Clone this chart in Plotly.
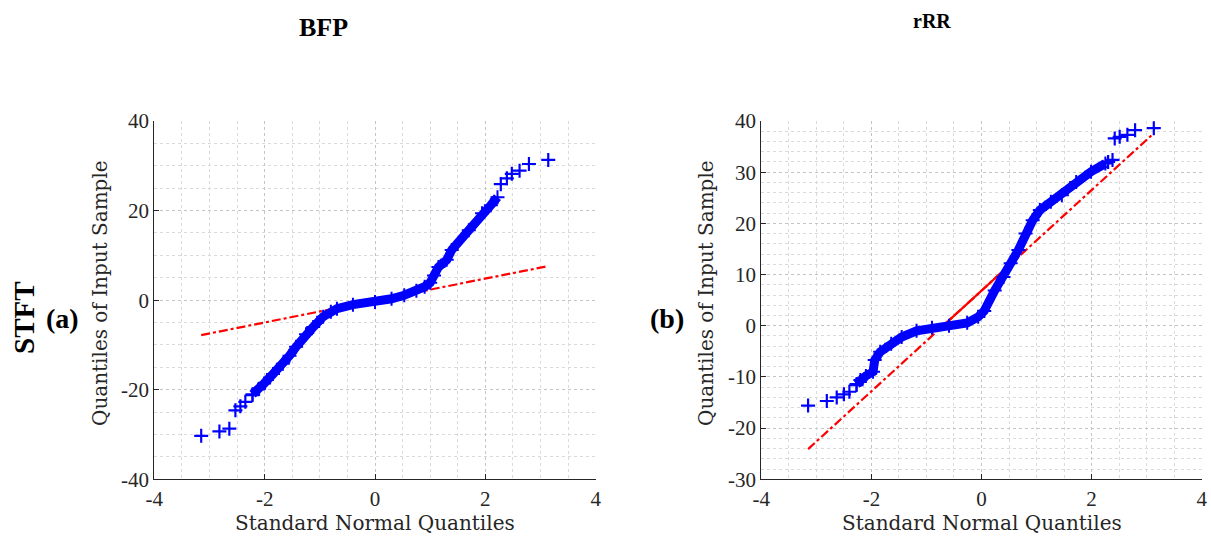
import numpy as np
import plotly.graph_objects as go

W, H = 1211, 538

# ---- BFP sample quantiles (panel a) ----
bfp_tail_lo_x = [-3.15, -2.82, -2.64, -2.53, -2.44, -2.35, -2.22]
bfp_tail_lo_y = [-30.3, -29.3, -28.7, -24.6, -23.7, -22.7, -21.2]
bfp_body_x = [-2.22, -2.10, -2.01, -1.85, -1.67, -1.55, -1.43, -1.25, -1.12, -0.94,
              -0.80, -0.69, -0.40, 0.00, 0.30, 0.53, 0.75, 0.90, 1.00, 1.07, 1.15,
              1.30, 1.39, 1.70, 1.94, 2.10, 2.22]
bfp_body_y = [-21.0, -19.8, -18.6, -16.5, -14.2, -12.4, -10.4, -7.6, -6.0, -3.7,
              -2.6, -1.9, -1.0, -0.4, 0.3, 1.1, 2.1, 3.0, 3.9, 5.5, 7.4,
              9.0, 11.2, 15.6, 19.4, 21.2, 23.0]
bfp_tail_hi_x = [2.28, 2.39, 2.48, 2.62, 2.79, 3.14]
bfp_tail_hi_y = [25.9, 27.2, 28.2, 28.9, 30.4, 31.3]
bfp_ref_x = [-3.15, 3.14]
bfp_ref_y = [-7.8, 7.6]

# ---- rRR sample quantiles (panel b) ----
rrr_tail_lo_x = [-3.15, -2.81, -2.63, -2.50, -2.40, -2.27]
rrr_tail_lo_y = [-15.6, -14.7, -14.0, -13.4, -12.9, -11.6]
rrr_body_x = [-2.27, -2.20, -2.10, -1.97, -1.94, -1.84, -1.64, -1.45, -1.18, -0.90,
              -0.59, -0.26, -0.06, 0.05, 0.24, 0.40, 0.53, 0.67, 0.80, 0.93, 1.06,
              1.26, 1.46, 1.72, 1.99, 2.25]
rrr_body_y = [-11.4, -10.6, -9.8, -9.0, -6.7, -5.1, -3.5, -2.2, -1.0, -0.4,
              0.0, 0.57, 1.74, 2.9, 6.9, 9.5, 12.2, 14.8, 18.0, 20.6, 22.6,
              24.2, 25.5, 28.1, 30.1, 31.7]
rrr_tail_hi_x = [2.30, 2.38, 2.42, 2.51, 2.65, 2.79, 3.13]
rrr_tail_hi_y = [32.0, 32.4, 36.6, 36.9, 37.3, 38.2, 38.6]
rrr_ref_x = [-3.15, 3.13]
rrr_ref_y = [-24.1, 37.6]

# quartiles of the standard normal: the reference line is solid between them
q25, q75 = -0.6745, 0.6745

x_ticks = [-4, -2, 0, 2, 4]
y_ticks_a = [-40, -20, 0, 20, 40]
y_ticks_b = [-30, -20, -10, 0, 10, 20, 30, 40]

BLUE = "#0000ff"
RED = "#ff0000"
SERIF = "Liberation Serif"
TICK_FONT = dict(family=SERIF, size=21, color="#262626")

fig = go.Figure()


def add_panel(xa, ya, tlx, tly, bx, by, thx, thy, rx, ry):
    # dashed-dotted extension of the fitted line
    fig.add_trace(go.Scatter(x=rx, y=ry, mode="lines", xaxis=xa, yaxis=ya,
                             line=dict(color=RED, width=2.2, dash="dashdot"),
                             showlegend=False, hoverinfo="skip"))
    # solid segment between the quartiles
    sx = [q25, q75]
    sy = list(np.interp(sx, rx, ry))
    fig.add_trace(go.Scatter(x=sx, y=sy, mode="lines", xaxis=xa, yaxis=ya,
                             line=dict(color=RED, width=2.2),
                             showlegend=False, hoverinfo="skip"))
    # dense middle of the sample
    fig.add_trace(go.Scatter(x=bx, y=by, mode="lines+markers", xaxis=xa, yaxis=ya,
                             line=dict(color=BLUE, width=9),
                             marker=dict(symbol="cross-thin", size=10, color=BLUE,
                                         line=dict(color=BLUE, width=2)),
                             showlegend=False))
    # sparse tails
    fig.add_trace(go.Scatter(x=tlx + thx, y=tly + thy, mode="markers", xaxis=xa, yaxis=ya,
                             marker=dict(symbol="cross-thin", size=10, color=BLUE,
                                         line=dict(color=BLUE, width=2.2)),
                             showlegend=False))


add_panel("x", "y", bfp_tail_lo_x, bfp_tail_lo_y, bfp_body_x, bfp_body_y,
          bfp_tail_hi_x, bfp_tail_hi_y, bfp_ref_x, bfp_ref_y)
add_panel("x2", "y2", rrr_tail_lo_x, rrr_tail_lo_y, rrr_body_x, rrr_body_y,
          rrr_tail_hi_x, rrr_tail_hi_y, rrr_ref_x, rrr_ref_y)


def px(v):
    return v / W


def py(v):
    return 1 - v / H


def xaxis(domain, anchor):
    return dict(domain=domain, range=[-4, 4], tickvals=x_ticks, anchor=anchor,
                ticktext=[str(t) for t in x_ticks], tickfont=TICK_FONT,
                showline=True, linecolor="#262626", linewidth=1.3, mirror=False,
                ticks="inside", ticklen=5, tickcolor="#262626", automargin=False,
                showgrid=True, gridcolor="#c4c4c4", griddash="dot", gridwidth=1,
                minor=dict(dtick=0.5, showgrid=True, gridcolor="#dadada",
                           griddash="dot", ticks=""),
                zeroline=False, fixedrange=True)


def yaxis(domain, ticks, rng, minor, anchor):
    return dict(domain=domain, range=rng, tickvals=ticks,
                ticktext=[str(t) for t in ticks], tickfont=TICK_FONT,
                showline=True, linecolor="#262626", linewidth=1.3, mirror=False,
                ticks="inside", ticklen=5, tickcolor="#262626", anchor=anchor,
                automargin=False,
                showgrid=True, gridcolor="#c4c4c4", griddash="dot", gridwidth=1,
                minor=dict(dtick=minor, showgrid=True, gridcolor="#dadada",
                           griddash="dot", ticks=""),
                zeroline=False, fixedrange=True)


ydom = [py(479.3), py(121)]
fig.update_layout(
    template="none",
    width=W, height=H,
    margin=dict(l=0, r=0, t=0, b=0, pad=0),
    paper_bgcolor="white", plot_bgcolor="white",
    xaxis=xaxis([px(154.3), px(595.7)], "y"),
    yaxis=yaxis(ydom, y_ticks_a, [-40, 40], 5, "x"),
    xaxis2=xaxis([px(761.3), px(1201.7)], "y2"),
    yaxis2=yaxis(ydom, y_ticks_b, [-30, 40], 2, "x2"),
)

LABEL_FONT = dict(family="DejaVu Serif", size=20, color="#262626")
BOLD = dict(family=SERIF, size=28, color="black")

annotations = [
    dict(text="<b>BFP</b>", x=px(323.5), y=py(28), font=dict(BOLD, size=26)),
    dict(text="<b>rRR</b>", x=px(932), y=py(21), font=dict(BOLD, size=20)),
    dict(text="<b>STFT</b>", x=px(24), y=py(318), font=dict(BOLD, size=29), textangle=-90),
    dict(text="<b>(a)</b>", x=px(62), y=py(318), font=BOLD),
    dict(text="<b>(b)</b>", x=px(667), y=py(318), font=BOLD),
    dict(text="Standard Normal Quantiles", x=px(375), y=py(523), font=LABEL_FONT),
    dict(text="Standard Normal Quantiles", x=px(981.5), y=py(523), font=LABEL_FONT),
    dict(text="Quantiles of Input Sample", x=px(100), y=py(293), font=LABEL_FONT,
         textangle=-90),
    dict(text="Quantiles of Input Sample", x=px(706), y=py(293), font=LABEL_FONT,
         textangle=-90),
]
for a in annotations:
    a.update(xref="paper", yref="paper", showarrow=False,
             xanchor="center", yanchor="middle")
fig.update_layout(annotations=annotations)

fig.write_html("out.html")
